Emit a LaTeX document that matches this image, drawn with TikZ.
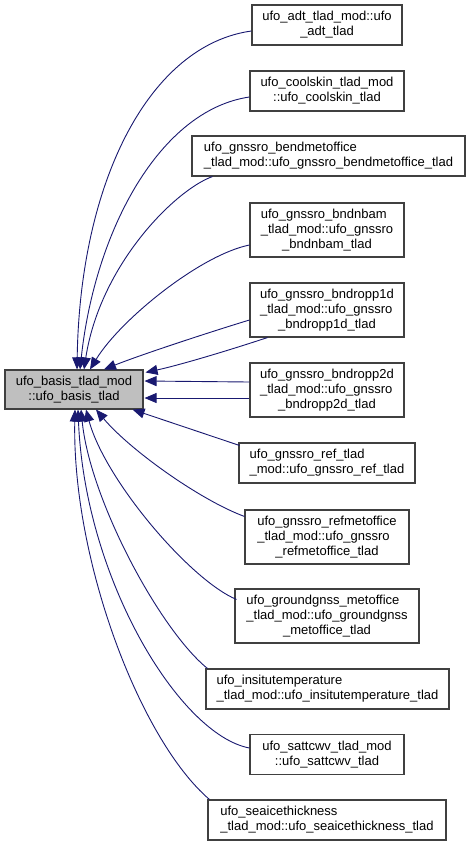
\documentclass[tikz,border=0pt]{standalone}
\usepackage{fontspec}
\setmainfont{Liberation Sans}
\usetikzlibrary{arrows.meta,calc}
\definecolor{edgeblue}{HTML}{191970}
\definecolor{boxline}{HTML}{404040}
\definecolor{rootfill}{HTML}{BFBFBF}
\newcommand{\dlab}[2]{\begin{tabular}{@{}l@{}}#1\\\multicolumn{1}{@{}c@{}}{#2}\end{tabular}}
\begin{document}
\begin{tikzpicture}[x=1pt,y=-1pt,
  box/.style={draw=boxline,line width=1.1pt,fill=white,inner sep=0pt,font=\fontsize{13}{15}\selectfont},
  rootbox/.style={box,fill=rootfill},
  edge/.style={draw=edgeblue,line width=0.9pt,-{Triangle[length=12pt,width=10pt]}}]
\useasboundingbox (0,0) rectangle (468,847);

\node[rootbox,minimum width=138pt,minimum height=39pt] (root) at (74,389.5)
  {\dlab{ufo\_basis\_tlad\_mod}{::ufo\_basis\_tlad}};

\node[box,minimum width=150pt,minimum height=40pt] (adt) at (327,25)
  {\dlab{ufo\_adt\_tlad\_mod::ufo}{\_adt\_tlad}};
\node[box,minimum width=154pt,minimum height=40pt] (coolskin) at (327,91)
  {\dlab{ufo\_coolskin\_tlad\_mod}{::ufo\_coolskin\_tlad}};
\node[box,minimum width=273pt,minimum height=40pt] (bendmet) at (328.5,156)
  {\dlab{ufo\_gnssro\_bendmetoffice}{\_tlad\_mod::ufo\_gnssro\_bendmetoffice\_tlad}};
\node[box,minimum width=154pt,minimum height=54pt] (bndnbam) at (327,230)
  {\dlab{ufo\_gnssro\_bndnbam\\\_tlad\_mod::ufo\_gnssro}{\_bndnbam\_tlad}};
\node[box,minimum width=154pt,minimum height=54pt] (bndropp1d) at (327,310)
  {\dlab{ufo\_gnssro\_bndropp1d\\\_tlad\_mod::ufo\_gnssro}{\_bndropp1d\_tlad}};
\node[box,minimum width=154pt,minimum height=54pt] (bndropp2d) at (327,390)
  {\dlab{ufo\_gnssro\_bndropp2d\\\_tlad\_mod::ufo\_gnssro}{\_bndropp2d\_tlad}};
\node[box,minimum width=176pt,minimum height=40pt] (ref) at (327,463)
  {\dlab{ufo\_gnssro\_ref\_tlad}{\_mod::ufo\_gnssro\_ref\_tlad}};
\node[box,minimum width=164pt,minimum height=54pt] (refmet) at (327,537)
  {\dlab{ufo\_gnssro\_refmetoffice\\\_tlad\_mod::ufo\_gnssro}{\_refmetoffice\_tlad}};
\node[box,minimum width=184pt,minimum height=54pt] (ground) at (327,616)
  {\dlab{ufo\_groundgnss\_metoffice\\\_tlad\_mod::ufo\_groundgnss}{\_metoffice\_tlad}};
\node[box,minimum width=243pt,minimum height=40pt] (insitu) at (327.5,689)
  {\dlab{ufo\_insitutemperature}{\_tlad\_mod::ufo\_insitutemperature\_tlad}};
\node[box,minimum width=154pt,minimum height=40pt] (sattcwv) at (327,754.5)
  {\dlab{ufo\_sattcwv\_tlad\_mod}{::ufo\_sattcwv\_tlad}};
\node[box,minimum width=238pt,minimum height=40pt] (seaice) at (327,820)
  {\dlab{ufo\_seaicethickness}{\_tlad\_mod::ufo\_seaicethickness\_tlad}};

% edges into top of root
\draw[edge] ($(adt.west)+(0,6)$) .. controls (150,45) and (80,180) .. ($(root.north)+(3,0)$);
\draw[edge] ($(coolskin.west)+(0,6)$) .. controls (160,110) and (95,230) .. ($(root.north)+(6,0)$);
\draw[edge] ($(bendmet.south west)+(21,0)$) .. controls (175,190) and (100,265) .. ($(root.north)+(10,0)$);
\draw[edge] ($(bndnbam.west)+(0,15)$) .. controls (200,255) and (120,320) .. ($(root.north)+(16,0)$);
\draw[edge] ($(bndropp1d.west)+(0,10)$) .. controls (210,332) and (140,355) .. ($(root.north)+(30,0)$);
\draw[edge] ($(bndropp1d.south west)+(18,0)$) .. controls (230,350) and (180,365) .. ($(root.north east)+(2,3)$);
% edges into right of root
\draw[edge] ($(bndropp2d.west)+(0,-8)$) -- ($(root.east)+(1,-8.5)$);
\draw[edge] ($(bndropp2d.west)+(0,8)$) -- ($(root.east)+(1,8.5)$);
% edges into bottom of root
\draw[edge] ($(ref.north west)+(1,3)$) -- ($(root.south east)+(-11,0)$);
\draw[edge] ($(refmet.north west)+(0,7)$) .. controls (200,500) and (130,450) .. ($(root.south)+(22,0)$);
\draw[edge] ($(ground.north west)+(2,11)$) .. controls (190,580) and (105,480) .. ($(root.south)+(12,0)$);
\draw[edge] ($(insitu.north west)+(2,0)$) .. controls (160,630) and (90,500) .. ($(root.south)+(7,0)$);
\draw[edge] ($(sattcwv.west)+(0,-6.5)$) .. controls (180,735) and (85,580) .. ($(root.south)+(4,0)$);
\draw[edge] ($(seaice.north west)+(2,0)$) .. controls (140,740) and (72,560) .. ($(root.south)+(1,0)$);
\end{tikzpicture}
\end{document}
